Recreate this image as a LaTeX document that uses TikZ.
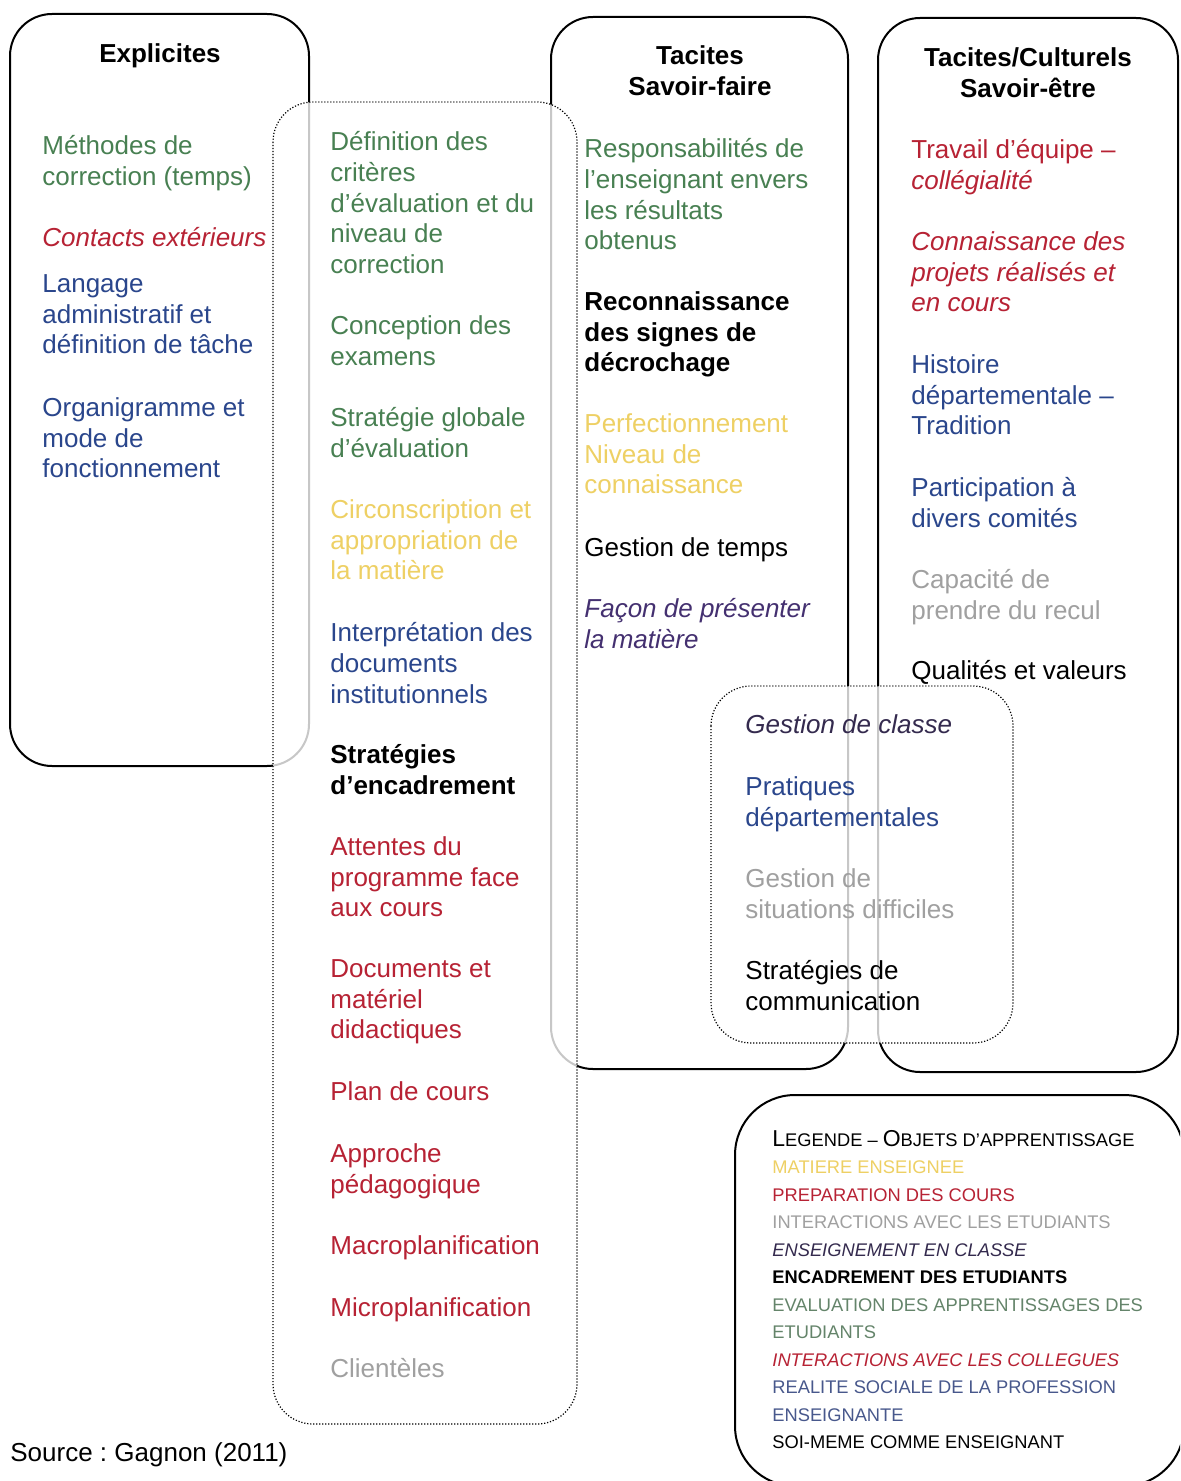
\documentclass[tikz,border=0pt]{standalone}
\usepackage{fontspec}
\setmainfont{Liberation Sans}
\frenchspacing
\definecolor{cgreen}{RGB}{72,128,82}
\definecolor{cred}{RGB}{183,34,52}
\definecolor{cblue}{RGB}{42,70,140}
\definecolor{cyellow}{RGB}{238,208,100}
\definecolor{cgray}{RGB}{160,160,160}
\definecolor{cpurple}{RGB}{68,48,112}
\definecolor{cdark}{RGB}{52,42,78}
\definecolor{clgreen}{RGB}{100,132,106}
\definecolor{clblue}{RGB}{72,88,140}
\newcommand\mystrut{\rule{0pt}{12.5pt}}
\newcommand\lgstrut{\rule{0pt}{10pt}}
\newcommand\lgcap[1]{{\fontsize{11.5}{13.75}\selectfont #1}}
\begin{document}
\begin{tikzpicture}[x=0.5pt,y=-0.5pt,
  solidbox/.style={draw=black,line width=1pt,rounded corners=21pt},
  dotbox/.style={draw=black,line width=0.6pt,dash pattern=on 0.6pt off 0.9pt,rounded corners=20pt,fill=white,fill opacity=0.78},
  txt/.style={anchor=north west,inner sep=0pt,align=left,font=\fontsize{13}{15.4}\selectfont,yshift=12.5pt,execute at begin node=\mystrut},
  txti/.style={txt,font=\fontsize{13}{15.4}\selectfont\itshape},
  txtb/.style={txt,font=\fontsize{13}{15.4}\selectfont\bfseries},
  ml/.style={yshift=-3pt},
  head/.style={anchor=north,inner sep=0pt,align=center,font=\fontsize{13}{15.4}\selectfont\bfseries,yshift=12.5pt,execute at begin node=\mystrut},
  lgd/.style={anchor=north west,inner sep=0pt,align=left,font=\fontsize{9.15}{13.75}\selectfont,yshift=8pt,execute at begin node=\lgstrut}
]
\clip (0,0) rectangle (1180,1481);
\fill[white] (0,0) rectangle (1180,1481);

% solid boxes
\draw[solidbox] (10,14) rectangle (309,766);
\draw[solidbox] (551,17) rectangle (848,1069);
\draw[solidbox] (878,18) rectangle (1178,1072);
\draw[solidbox,rounded corners=30pt] (735,1095) rectangle (1184,1486);

% dotted boxes
\draw[dotbox] (273,102) rectangle (577,1424);
\draw[dotbox] (711,686) rectangle (1013,1043);

% Explicites
\node[head] (hExp) at (160,62) {Explicites};
\node[txt,ml,text=cgreen] (e1) at (42,154) {Méthodes de\\correction (temps)};
\node[txti,text=cred] (e2) at (42,246) {Contacts extérieurs};
\node[txt,ml,text=cblue] (e3) at (42,293) {Langage\\administratif et\\définition de tâche};
\node[txt,ml,text=cblue] (e4) at (42,416) {Organigramme et\\mode de\\fonctionnement};

% middle column
\node[txt,ml,text=cgreen] (m1) at (330,150) {Définition des\\critères\\d’évaluation et du\\niveau de\\correction};
\node[txt,ml,text=cgreen] (m2) at (330,334) {Conception des\\examens};
\node[txt,ml,text=cgreen] (m3) at (330,426) {Stratégie globale\\d’évaluation};
\node[txt,ml,text=cyellow] (m4) at (330,518) {Circonscription et\\appropriation de\\la matière};
\node[txt,ml,text=cblue] (m5) at (330,641) {Interprétation des\\documents\\institutionnels};
\node[txtb,ml,text=black] (m6) at (330,763) {Stratégies\\d’encadrement};
\node[txt,ml,text=cred] (m7) at (330,855) {Attentes du\\programme face\\aux cours};
\node[txt,ml,text=cred] (m8) at (330,978) {Documents et\\matériel\\didactiques};
\node[txt,text=cred] (m9) at (330,1100) {Plan de cours};
\node[txt,ml,text=cred] (m10) at (330,1162) {Approche\\pédagogique};
\node[txt,text=cred] (m11) at (330,1254) {Macroplanification};
\node[txt,text=cred] (m12) at (330,1316) {Microplanification};
\node[txt,text=cgray] (m13) at (330,1377) {Clientèles};

% Tacites
\node[head,ml] (hTac) at (700,64) {Tacites\\Savoir-faire};
\node[txt,ml,text=cgreen] (t1) at (584,157) {Responsabilités de\\l’enseignant envers\\les résultats\\obtenus};
\node[txtb,ml,text=black] (t2) at (584,310) {Reconnaissance\\des signes de\\décrochage};
\node[txt,ml,text=cyellow] (t3) at (584,432) {Perfectionnement\\Niveau de\\connaissance};
\node[txt,text=black] (t4) at (584,556) {Gestion de temps};
\node[txti,ml,text=cpurple] (t5) at (584,617) {Façon de présenter\\la matière};

% Tacites/Culturels
\node[head,ml] (hCul) at (1028,66) {Tacites/Culturels\\Savoir-être};
\node[txt,ml,text=cred] (c1) at (911,158) {Travail d’équipe –\\{\itshape collégialité}};
\node[txti,ml,text=cred] (c2) at (911,250) {Connaissance des\\projets réalisés et\\en cours};
\node[txt,ml,text=cblue] (c3) at (911,373) {Histoire\\départementale –\\Tradition};
\node[txt,ml,text=cblue] (c4) at (911,496) {Participation à\\divers comités};
\node[txt,ml,text=cgray] (c5) at (911,588) {Capacité de\\prendre du recul};
\node[txt,text=black] (c6) at (911,679) {Qualités et valeurs};

% Gestion box
\node[txti,text=cdark] (g1) at (745,733) {Gestion de classe};
\node[txt,ml,text=cblue] (g2) at (745,795) {Pratiques\\départementales};
\node[txt,ml,text=cgray] (g3) at (745,887) {Gestion de\\situations difficiles};
\node[txt,ml,text=black] (g4) at (745,979) {Stratégies de\\communication};

% source
\node[txt,text=black] (src) at (10,1461) {Source : Gagnon (2011)};

% legend
\node[lgd] (leg) at (772,1146) {\lgcap{L}EGENDE – \lgcap{O}BJETS D’APPRENTISSAGE\\
\textcolor{cyellow}{MATIERE ENSEIGNEE}\\
\textcolor{cred}{PREPARATION DES COURS}\\
\textcolor{cgray}{INTERACTIONS AVEC LES ETUDIANTS}\\
\textcolor{cdark}{\itshape ENSEIGNEMENT EN CLASSE}\\
{\bfseries ENCADREMENT DES ETUDIANTS}\\
\textcolor{clgreen}{EVALUATION DES APPRENTISSAGES DES}\\
\textcolor{clgreen}{ETUDIANTS}\\
\textcolor{cred}{\itshape INTERACTIONS AVEC LES COLLEGUES}\\
\textcolor{clblue}{REALITE SOCIALE DE LA PROFESSION}\\
\textcolor{clblue}{ENSEIGNANTE}\\
SOI-MEME COMME ENSEIGNANT};
\end{tikzpicture}
\end{document}
